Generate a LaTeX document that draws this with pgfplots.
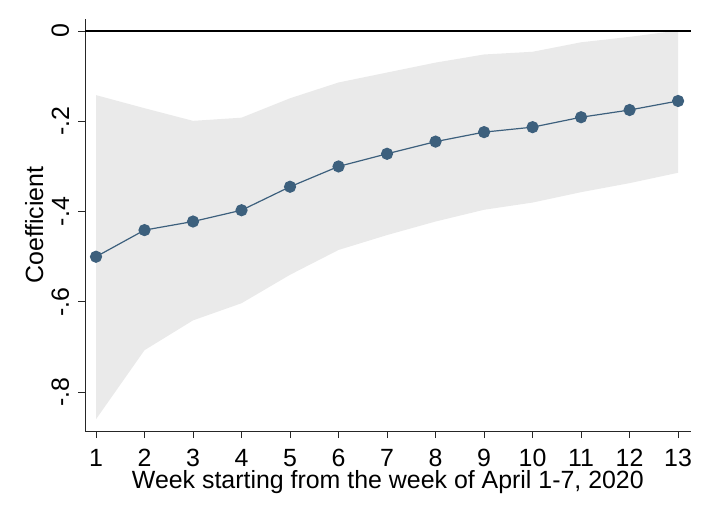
\documentclass[border=0pt]{standalone}
\usepackage{pgfplots}
\pgfplotsset{compat=1.18}
\usepgfplotslibrary{fillbetween}
\usepackage{fontspec}
\setmainfont{Liberation Sans}
\definecolor{navy}{RGB}{61,96,125}
\definecolor{band}{RGB}{234,234,234}
\pgfplotstableread{
week coef lo hi
1  -0.500 -0.860 -0.142
2  -0.441 -0.707 -0.171
3  -0.422 -0.641 -0.199
4  -0.397 -0.603 -0.192
5  -0.345 -0.540 -0.149
6  -0.300 -0.485 -0.114
7  -0.272 -0.452 -0.092
8  -0.245 -0.422 -0.070
9  -0.224 -0.396 -0.052
10 -0.213 -0.380 -0.046
11 -0.191 -0.357 -0.025
12 -0.175 -0.337 -0.013
13 -0.155 -0.314  0.001
}\data
\begin{document}
\fontsize{24.5}{28}\selectfont
\begin{tikzpicture}
\begin{axis}[
  at={(0,0)}, anchor=south west,
  scale only axis,
  width=605.7bp, height=412bp,
  xmin=0.773, xmax=13.26,
  ymin=-0.886, ymax=0.0266,
  axis lines=left,
  axis line style={-, line width=0.9bp, black!85},
  tick align=outside,
  major tick length=7bp,
  tick style={line width=0.9bp, black!85},
  xtick={1,2,3,4,5,6,7,8,9,10,11,12,13},
  ytick={-0.8,-0.6,-0.4,-0.2,0},
  yticklabels={-.8,-.6,-.4,-.2,0},
  minor tick num=0,
  tick label style={font=\fontsize{25}{28}\selectfont},
  xticklabel style={anchor=base, yshift=-28bp, inner sep=0pt, outer sep=0pt},
  yticklabel style={xshift=-9bp, rotate=90, anchor=south, inner sep=0pt, outer sep=0pt},
  /pgf/number format/assume math mode=true,
  xlabel={Week starting from the week of April 1-7, 2020},
  ylabel={Coefficient},
  xlabel style={font=\fontsize{25}{28}\selectfont, at={(axis description cs:0.5,0)}, anchor=base, yshift=-57.5bp, inner sep=0pt},
  ylabel style={font=\fontsize{25}{28}\selectfont, at={(axis description cs:-0.0693,0.5)}, anchor=base, inner sep=0pt},
  clip=false,
]
\addplot[name path=hi, draw=none, forget plot] table[x=week, y=hi] {\data};
\addplot[name path=lo, draw=none, forget plot] table[x=week, y=lo] {\data};
\addplot[band, draw=none, forget plot] fill between[of=hi and lo];
\addplot[black, line width=1.1bp, forget plot] coordinates {(0.773,0) (13.26,0)};
\addplot[navy, line width=1.2bp, mark=*, mark size=5.5bp, mark options={fill=navy, draw=navy}] table[x=week, y=coef] {\data};
\end{axis}
\path (-85bp,-85bp) rectangle (624bp,431bp);
\end{tikzpicture}
\end{document}
